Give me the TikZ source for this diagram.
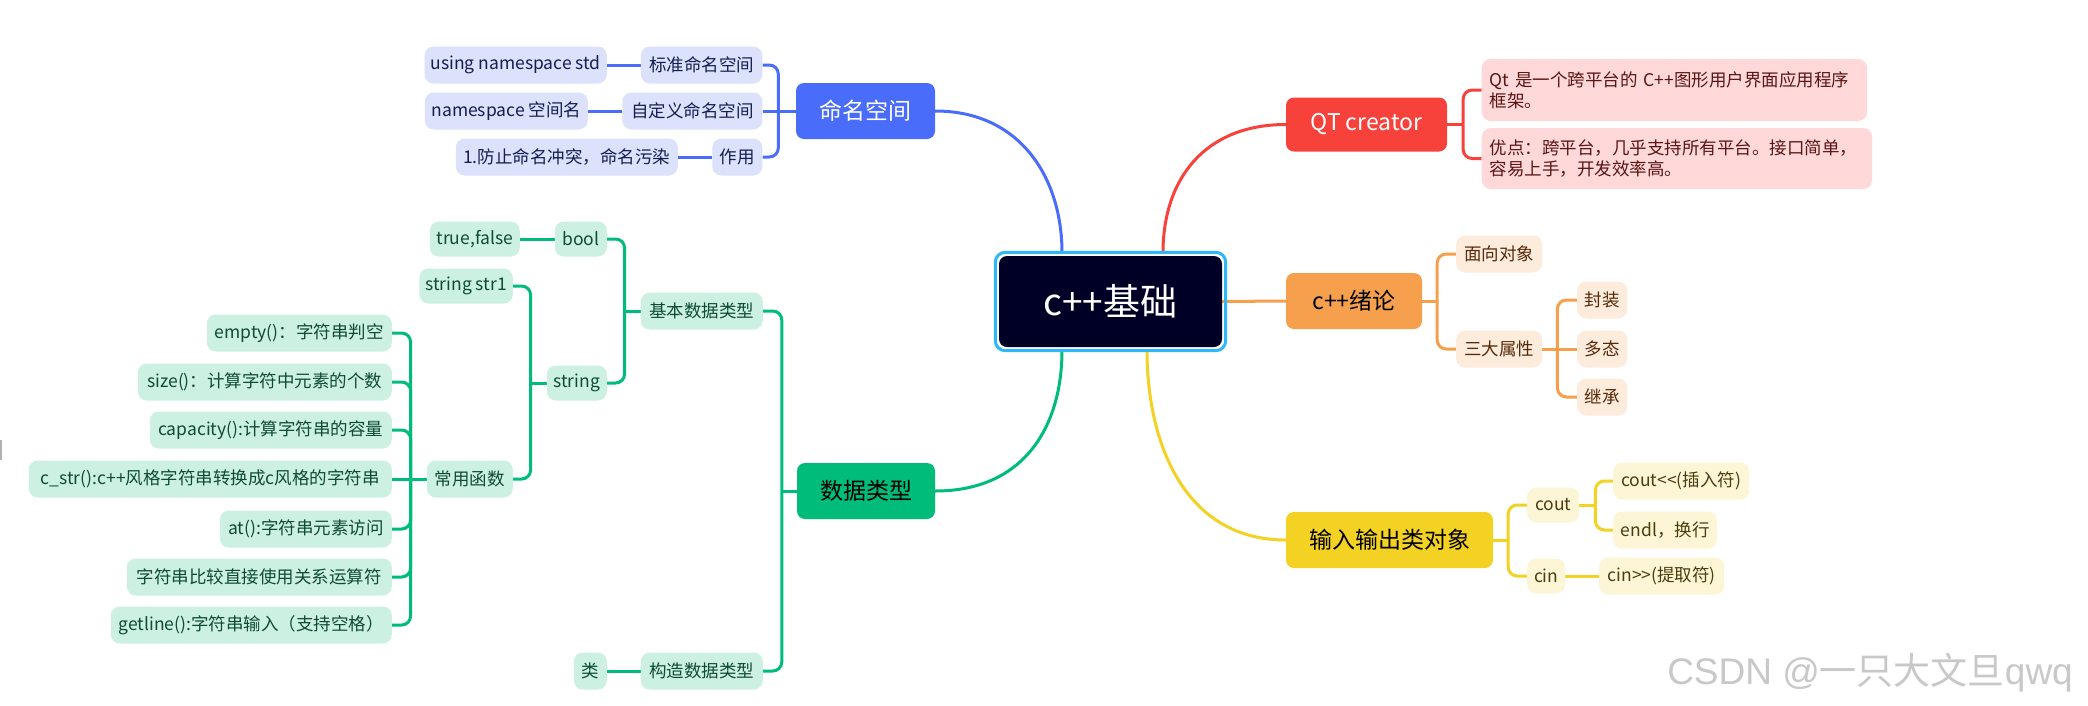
\documentclass[tikz,border=0pt]{standalone}
\usepackage{fontspec}
\setmainfont{Noto Sans CJK SC}
\newfontfamily\wmfont{Liberation Sans}
\newfontfamily\wmcjk{Noto Sans CJK SC}
\pgfdeclarelayer{bg}
\pgfsetlayers{bg,main}
\definecolor{blueM}{RGB}{74,108,250}
\definecolor{blueL}{RGB}{220,225,252}
\definecolor{blueT}{RGB}{20,30,80}
\definecolor{redM}{RGB}{247,66,60}
\definecolor{redL}{RGB}{255,217,217}
\definecolor{redT}{RGB}{90,20,20}
\definecolor{oraM}{RGB}{246,160,77}
\definecolor{oraL}{RGB}{253,235,220}
\definecolor{oraT}{RGB}{85,42,10}
\definecolor{yelM}{RGB}{243,210,35}
\definecolor{yelL}{RGB}{253,246,214}
\definecolor{yelT}{RGB}{75,60,15}
\definecolor{grnM}{RGB}{0,188,123}
\definecolor{grnL}{RGB}{204,241,226}
\definecolor{grnT}{RGB}{15,75,50}
\definecolor{ctrF}{RGB}{0,0,38}
\definecolor{ctrB}{RGB}{46,184,245}
\definecolor{wmC}{RGB}{200,200,200}
\tikzset{
  x=1pt, y=-1pt,
  mainbox/.style={rounded corners=8pt, minimum height=56pt, inner xsep=6pt, inner ysep=0pt,
    font=\fontsize{23}{27}\selectfont},
  subbox/.style={rounded corners=9pt, minimum height=37pt, inner xsep=6pt, inner ysep=0pt,
    font=\fontsize{17.5}{21}\selectfont},
  bm/.style={mainbox, fill=blueM, text=white},
  bs/.style={subbox, fill=blueL, text=blueT, anchor=east},
  rm/.style={mainbox, fill=redM, text=white},
  rs/.style={subbox, fill=redL, text=redT, anchor=west, align=left, inner xsep=8pt,
    font=\fontsize{17.5}{21}\selectfont},
  om/.style={mainbox, fill=oraM, text=black},
  os/.style={subbox, fill=oraL, text=oraT, anchor=west},
  ym/.style={mainbox, fill=yelM, text=black},
  ys/.style={subbox, fill=yelL, text=yelT, anchor=west},
  gm/.style={mainbox, fill=grnM, text=black},
  gs/.style={subbox, fill=grnL, text=grnT, anchor=east},
  conn/.style={line width=3pt},
  bra/.style={conn, rounded corners=9pt},
}
\begin{document}
\begin{tikzpicture}
\begin{pgfonlayer}{bg}
\fill[white] (0,0) rectangle (2088,705);
\end{pgfonlayer}
\useasboundingbox (0,0) rectangle (2088,705);

% centre
\node[fill=ctrF, rounded corners=8pt, minimum width=223pt, minimum height=91pt, inner sep=0pt,
  text=white, font=\fontsize{37}{44}\selectfont] (c) at (1110.5,301.5) {c++基础};
\draw[ctrB, line width=3pt, rounded corners=10pt]
  ([shift={(-3.5,-3.5)}]c.north west) rectangle ([shift={(3.5,3.5)}]c.south east);
\coordinate (cTL) at ([xshift=-48.5pt,yshift=3pt]c.north);
\coordinate (cTR) at ([xshift=52.5pt,yshift=3pt]c.north);
\coordinate (cBL) at ([xshift=-48.5pt,yshift=-3pt]c.south);
\coordinate (cBR) at ([xshift=36.5pt,yshift=-3pt]c.south);

% namespace branch
\node[bm, minimum width=139pt] (ns) at (865.5,111) {命名空间};
\node[bs, minimum width=121.5pt] (ns1) at (762.5,65) {标准命名空间};
\node[bs, minimum width=182pt] (ns1a) at (607,65) {using namespace std};
\node[bs, minimum width=140pt] (ns2) at (762.5,111) {自定义命名空间};
\node[bs, minimum width=163pt] (ns2a) at (588,111) {namespace 空间名};
\node[bs, minimum width=50pt] (ns3) at (762.5,157) {作用};
\node[bs, minimum width=222pt] (ns3a) at (678,157) {1.防止命名冲突，命名污染};

% QT branch
\node[rm, minimum width=161pt, minimum height=54pt] (qt) at (1366.5,124.5) {QT creator};
\node[rs, minimum width=385.5pt, minimum height=62pt, text width=369.5pt] (qt1) at (1481.5,90)
  {\mbox{Qt 是一个跨平台的 C++图形用户界面应用程序}\\\mbox{框架。}};
\node[rs, minimum width=390.5pt, minimum height=61pt, text width=374.5pt] (qt2) at (1481.5,158.5)
  {\mbox{优点：跨平台，几乎支持所有平台。接口简单，}\\\mbox{容易上手，开发效率高。}};

% intro branch
\node[om, minimum width=136pt] (intro) at (1354,301) {c++绪论};
\node[os, minimum width=86pt] (oop) at (1456,254) {面向对象};
\node[os, minimum width=86pt] (three) at (1456,349) {三大属性};
\node[os, minimum width=50pt] (fz) at (1577,300) {封装};
\node[os, minimum width=50pt] (dtai) at (1577,349) {多态};
\node[os, minimum width=50pt] (jc) at (1577,397) {继承};

% io branch
\node[ym, minimum width=207pt] (io) at (1389.5,540) {输入输出类对象};
\node[ys, minimum width=52pt, minimum height=35pt] (cout) at (1527,505) {cout};
\node[ys, minimum width=38pt, minimum height=35pt] (cin) at (1527,576) {cin};
\node[ys, minimum width=136pt] (cout1) at (1613,481) {cout<\kern0pt<(插入符)};
\node[ys, minimum width=104pt] (cout2) at (1613,530) {endl，换行};
\node[ys, minimum width=125pt] (cin1) at (1599,576) {cin>\kern0pt>(提取符)};

% data type branch
\node[gm, minimum width=138pt] (dt) at (866,491) {数据类型};
\node[gs, minimum width=122pt] (basic) at (763,311) {基本数据类型};
\node[gs, minimum width=122pt] (build) at (763,671) {构造数据类型};
\node[gs, minimum width=33pt] (cls) at (607,671) {类};
\node[gs, minimum width=52pt, minimum height=35pt] (bool) at (607,239) {bool};
\node[gs, minimum width=90pt, minimum height=35pt] (tf) at (520,239) {true,false};
\node[gs, minimum width=60pt, minimum height=35pt] (str) at (607,383) {string};
\node[gs, minimum width=93pt, minimum height=35pt] (str1) at (513,286) {string str1};
\node[gs, minimum width=86pt] (func) at (513,479) {常用函数};
\node[gs, minimum width=185pt] (f1) at (392,333) {empty()：字符串判空};
\node[gs, minimum width=254pt] (f2) at (392,382) {size()：计算字符中元素的个数};
\node[gs, minimum width=242pt] (f3) at (392,430) {capacity():计算字符串的容量};
\node[gs, minimum width=363pt] (f4) at (392,479) {c\_str():c++风格字符串转换成c风格的字符串};
\node[gs, minimum width=172pt] (f5) at (392,529) {at():字符串元素访问};
\node[gs, minimum width=265pt] (f6) at (392,577) {字符串比较直接使用关系运算符};
\node[gs, minimum width=281pt] (f7) at (392,625) {getline():字符串输入（支持空格）};

% watermark
\node[anchor=east, inner sep=0pt, text=wmC, font=\fontsize{37}{44}\selectfont] (wm) at (2073,673)
  {\wmfont CSDN @\wmcjk 一只大文旦\wmfont qwq};
\draw[gray!60, line width=1.5pt] (0.75,440) -- (0.75,460);

\begin{pgfonlayer}{bg}
% main curves
\draw[conn, blueM] (ns.east) .. controls +(85,0) and +(0,-75) .. (cTL);
\draw[conn, redM] (qt.west) .. controls +(-80,0) and +(0,-75) .. (cTR);
\draw[conn, grnM] (dt.east) .. controls +(90,0) and +(0,75) .. (cBL);
\draw[conn, yelM] (io.west) .. controls +(-100,0) and +(0,95) .. (cBR);
\draw[conn, oraM] (c.east) -- (intro.west);

% blue brackets
\draw[conn, blueM] (ns.west) -- ++(-17.5,0) coordinate (jns);
\draw[bra, blueM] (jns) |- (ns1.east);
\draw[bra, blueM] (jns) |- (ns3.east);
\draw[conn, blueM] (jns) -- (ns2.east);
\draw[conn, blueM] (ns1a.east) -- (ns1.west);
\draw[conn, blueM] (ns2a.east) -- (ns2.west);
\draw[conn, blueM] (ns3a.east) -- (ns3.west);

% red brackets
\draw[conn, redM] (qt.east) -- ++(16,0) coordinate (jqt);
\draw[bra, redM] (jqt) |- (qt1.west);
\draw[bra, redM] (jqt) |- (qt2.west);

% orange brackets
\draw[conn, oraM] (intro.east) -- ++(15,0) coordinate (jin);
\draw[bra, oraM] (jin) |- (oop.west);
\draw[bra, oraM] (jin) |- (three.west);
\draw[conn, oraM] (three.east) -- ++(15,0) coordinate (jth);
\draw[bra, oraM] (jth) |- (fz.west);
\draw[bra, oraM] (jth) |- (jc.west);
\draw[conn, oraM] (jth) -- (dtai.west);

% yellow brackets
\draw[conn, yelM] (io.east) -- ++(15,0) coordinate (jio);
\draw[bra, yelM] (jio) |- (cout.west);
\draw[bra, yelM] (jio) |- (cin.west);
\draw[conn, yelM] (cout.east) -- ++(16,0) coordinate (jco);
\draw[bra, yelM] (jco) |- (cout1.west);
\draw[bra, yelM] (jco) |- (cout2.west);
\draw[conn, yelM] (cin.east) -- (cin1.west);

% green brackets
\draw[conn, grnM] (dt.west) -- ++(-15,0) coordinate (jdt);
\draw[bra, grnM] (jdt) |- (basic.east);
\draw[bra, grnM] (jdt) |- (build.east);
\draw[conn, grnM] (cls.east) -- (build.west);
\draw[conn, grnM] (basic.west) -- ++(-16,0) coordinate (jba);
\draw[bra, grnM] (jba) |- (bool.east);
\draw[bra, grnM] (jba) |- (str.east);
\draw[conn, grnM] (tf.east) -- (bool.west);
\draw[conn, grnM] (str.west) -- ++(-16,0) coordinate (jst);
\draw[bra, grnM] (jst) |- (str1.east);
\draw[bra, grnM] (jst) |- (func.east);
\draw[conn, grnM] (func.west) -- ++(-16,0) coordinate (jfu);
\draw[bra, grnM] (jfu) |- (f1.east);
\draw[bra, grnM] (jfu) |- (f2.east);
\draw[bra, grnM] (jfu) |- (f3.east);
\draw[conn, grnM] (jfu) -- (f4.east);
\draw[bra, grnM] (jfu) |- (f5.east);
\draw[bra, grnM] (jfu) |- (f6.east);
\draw[bra, grnM] (jfu) |- (f7.east);
\end{pgfonlayer}
\end{tikzpicture}
\end{document}
